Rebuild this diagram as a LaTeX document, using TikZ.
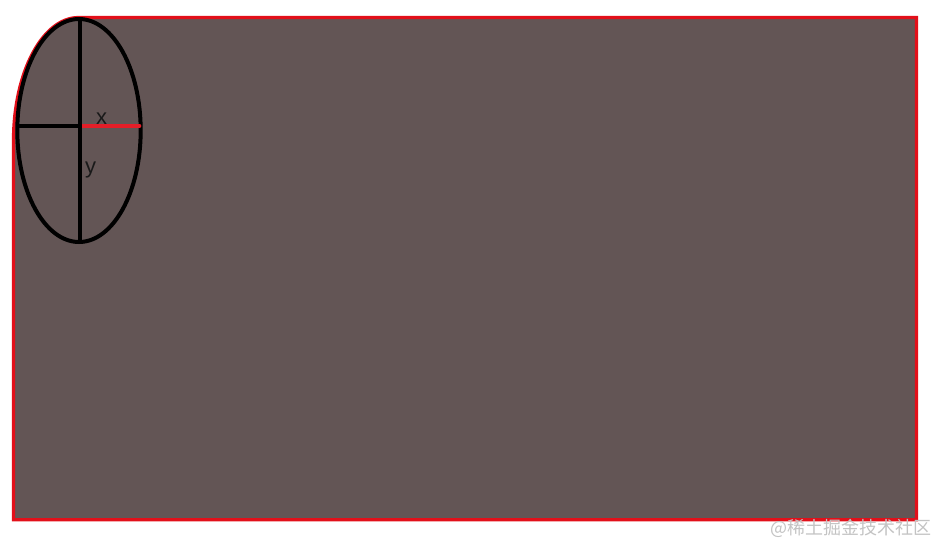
\documentclass[tikz,border=0pt]{standalone}
\usepackage{fontspec}
\setmainfont{Liberation Sans}
\newfontfamily\cjk{Noto Sans CJK SC}
\definecolor{boxfill}{RGB}{99,85,85}
\definecolor{boxred}{RGB}{226,16,26}
\definecolor{axisred}{RGB}{228,30,40}
\definecolor{lbl}{RGB}{25,25,25}
\definecolor{wmark}{RGB}{195,195,195}
\tikzset{
  boxstyle/.style={fill=boxfill, draw=boxred, line width=3.2pt},
  axisline/.style={draw=black, line width=3.6pt},
  axislabel/.style={text=lbl, font=\fontsize{22}{22}\selectfont, inner sep=0pt},
}
\begin{document}
\begin{tikzpicture}[x=1pt,y=1pt]
\useasboundingbox (0,0) rectangle (949,-556);
% box with elliptical top-left corner
\path[boxstyle] (13.5,-519.8) -- (13.5,-140) arc[start angle=180, end angle=90, x radius=65, y radius=122.5] -- (916.5,-17.5) -- (916.5,-519.8) -- cycle;
% ellipse
\draw[black, line width=4pt] (79,-130.5) ellipse[x radius=61.7, y radius=111.5];
% axes
\draw[axisline] (17,-126) -- (80,-126);
\draw[axisline, draw=axisred, line cap=round] (80,-126) -- (139.5,-126);
\draw[axisline] (80,-19) -- (80,-242);
% labels
\node[axislabel] (xl) at (101.5,-118.5) {x};
\node[axislabel] (yl) at (90.5,-170) {y};
% watermark
\node[text=wmark, font=\cjk\fontsize{18}{18}\selectfont, inner sep=0pt, anchor=east] (wm) at (932,-528) {@稀土掘金技术社区};
\end{tikzpicture}
\end{document}
